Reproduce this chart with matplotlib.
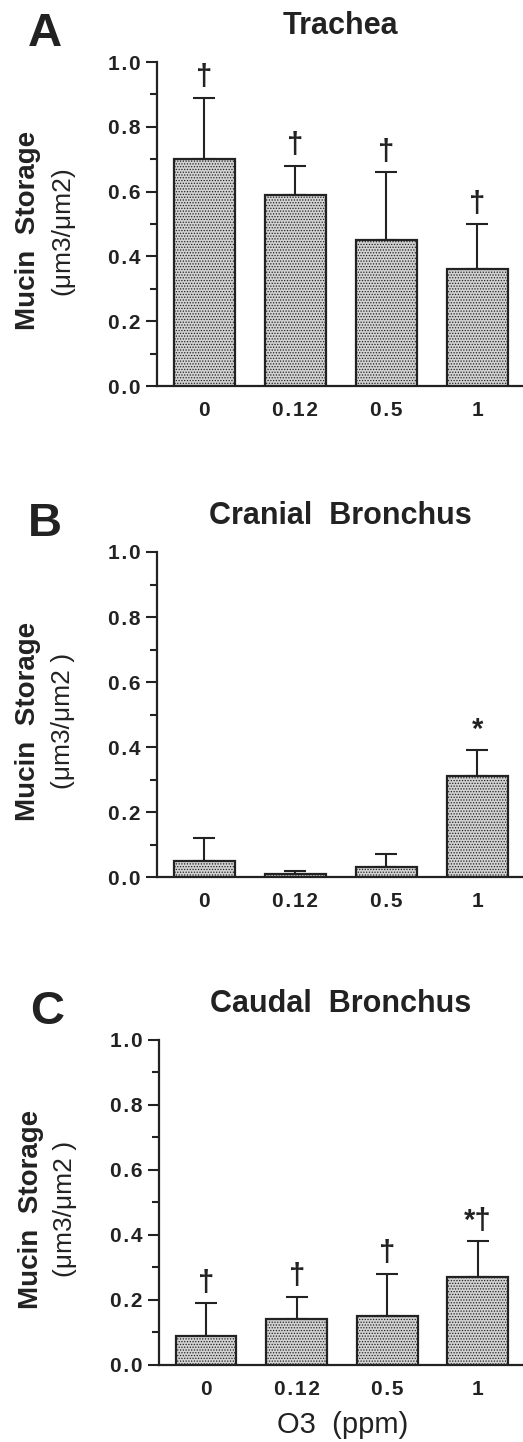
import matplotlib
matplotlib.use('Agg')
import matplotlib.pyplot as plt
from matplotlib.ticker import MultipleLocator

plt.rcParams['font.family'] = ['Liberation Sans', 'DejaVu Sans']
plt.rcParams['hatch.color'] = '#555555'
plt.rcParams['hatch.linewidth'] = 0.6

INK = '#222222'

doses = ['0', '0.12', '0.5', '1']

# mean and upper SD limit
trachea_mean = [0.70, 0.59, 0.45, 0.36]
trachea_top = [0.89, 0.68, 0.66, 0.50]
trachea_marks = ['†', '†', '†', '†']

cranial_mean = [0.05, 0.01, 0.03, 0.31]
cranial_top = [0.12, 0.02, 0.07, 0.39]
cranial_marks = ['', '', '', '*']

caudal_mean = [0.09, 0.14, 0.15, 0.27]
caudal_top = [0.19, 0.21, 0.28, 0.38]
caudal_marks = ['†', '†', '†', '*†']

panels = [
    ('A', 'Trachea', trachea_mean, trachea_top, trachea_marks, '(μm3/μm2)'),
    ('B', 'Cranial  Bronchus', cranial_mean, cranial_top, cranial_marks, '(μm3/μm2 )'),
    ('C', 'Caudal  Bronchus', caudal_mean, caudal_top, caudal_marks, '(μm3/μm2 )'),
]

# axes rectangles in figure fractions
rects = [
    [0.300, 0.7323, 0.700, 0.2247],
    [0.300, 0.3918, 0.700, 0.2254],
    [0.304, 0.0534, 0.696, 0.2254],
]


def spaced(s):
    return '\u200a'.join(s)


fig = plt.figure(figsize=(5.23, 14.42), dpi=100)

for (letter, title, mean, top, marks, unit), rect in zip(panels, rects):
    ax = fig.add_axes(rect)
    xs = list(range(len(doses)))
    up = [t - m for t, m in zip(top, mean)]
    lo = [0] * len(mean)
    ax.bar(xs, mean, width=0.67, facecolor='#d2d2d2', edgecolor=INK,
           linewidth=1.6, hatch='......', zorder=3)
    ax.errorbar(xs, mean, yerr=[lo, up], fmt='none', ecolor=INK,
                elinewidth=1.5, capsize=8, capthick=1.5, zorder=2)
    for x, t, m in zip(xs, top, marks):
        if m:
            ax.text(x, t + 0.02, m, ha='center', va='bottom',
                    fontsize=21, fontweight='bold', color=INK)

    ax.set_xlim(-0.52, 3.5)
    ax.set_ylim(0, 1.0)
    ax.set_xticks(xs)
    ax.set_xticklabels([spaced(d) for d in doses], fontsize=15,
                       fontweight='bold', color=INK)
    ax.tick_params(axis='x', length=0, pad=11)
    ax.yaxis.set_minor_locator(MultipleLocator(0.1))
    ax.set_yticks([0, 0.2, 0.4, 0.6, 0.8, 1.0])
    ax.set_yticklabels([spaced('%.1f' % v) for v in [0, 0.2, 0.4, 0.6, 0.8, 1.0]],
                       fontsize=15, fontweight='bold', color=INK)
    ax.tick_params(axis='y', which='major', length=8, width=1.5,
                   color=INK, pad=4)
    ax.tick_params(axis='y', which='minor', length=5, width=1.5, color=INK)
    for side in ['top', 'right']:
        ax.spines[side].set_visible(False)
    for side in ['left', 'bottom']:
        ax.spines[side].set_linewidth(1.6)
        ax.spines[side].set_color(INK)

    ax.text(0.5, 1.11, title, transform=ax.transAxes, ha='center',
            va='center', fontsize=22, fontweight='bold', color=INK)
    ax.text(-0.306, 1.085, letter, transform=ax.transAxes, ha='center',
            va='center', fontsize=34, fontweight='bold', color=INK)
    ax.text(-0.352, 0.48, 'Mucin  Storage', transform=ax.transAxes,
            rotation=90, ha='center', va='center', fontsize=20,
            fontweight='bold', color=INK)
    ax.text(-0.257, 0.48, unit, transform=ax.transAxes, rotation=90,
            ha='center', va='center', fontsize=19, color=INK)

fig.text(0.656, 1 - 1425 / 1442, 'O3  (ppm)', ha='center', va='center',
         fontsize=21, color=INK)

fig.savefig('out.png', dpi=100)
